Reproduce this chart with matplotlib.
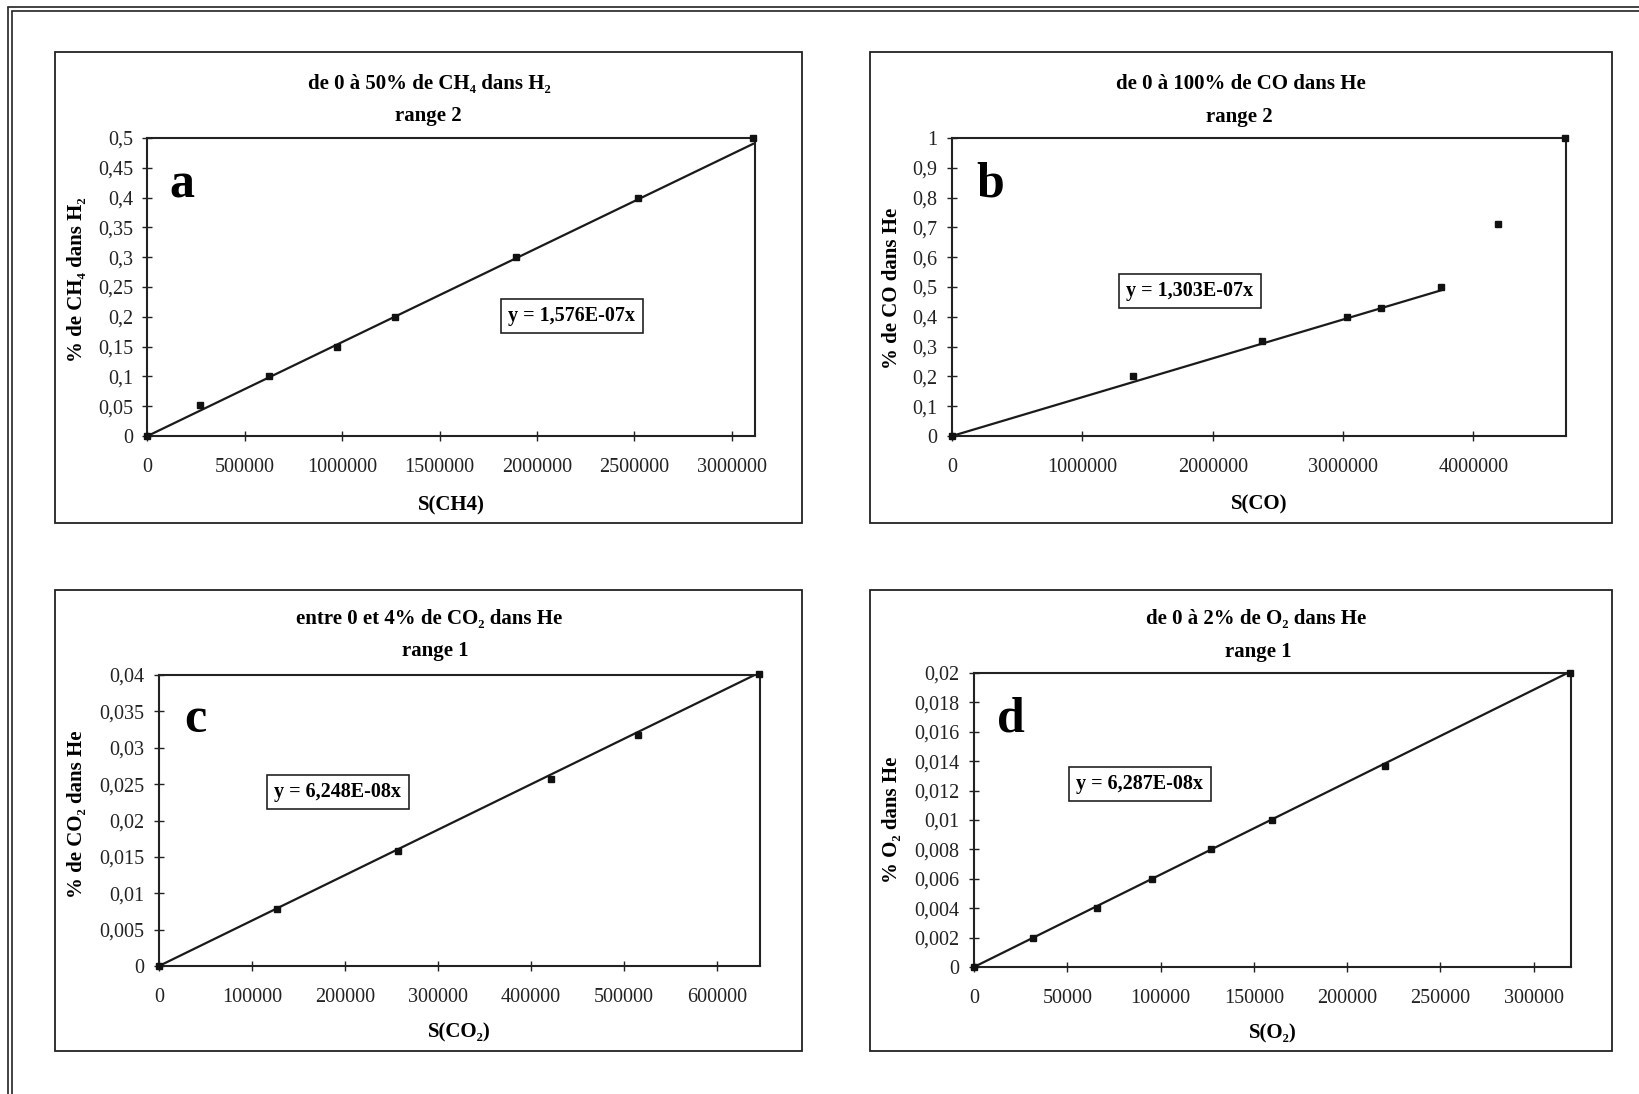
import matplotlib
matplotlib.use("Agg")
import matplotlib.pyplot as plt
from matplotlib.patches import Rectangle
from matplotlib.lines import Line2D
from matplotlib.ticker import FuncFormatter

plt.rcParams['font.family'] = ['Liberation Serif', 'DejaVu Serif']

W, H = 1640, 1094

# --- data ---
# a : CH4 in H2, range 2
s_ch4 = [0, 268000, 622000, 971000, 1271000, 1894000, 2521000, 3110000]
pct_ch4 = [0, 0.052, 0.1, 0.15, 0.2, 0.3, 0.4, 0.5]
slope_ch4 = 1.576e-07

# b : CO in He, range 2
s_co = [0, 1387000, 2380000, 3030000, 3290000, 3750000, 4190000, 4700000]
pct_co = [0, 0.2, 0.32, 0.40, 0.43, 0.50, 0.71, 1.0]
slope_co = 1.303e-07
fit_max_co = 3750000

# c : CO2 in He, range 1
s_co2 = [0, 127000, 257000, 421000, 515000, 645000]
pct_co2 = [0, 0.0078, 0.0158, 0.0257, 0.0318, 0.0401]
slope_co2 = 6.248e-08

# d : O2 in He, range 1
s_o2 = [0, 31400, 66100, 95300, 127200, 159800, 220300, 319500]
pct_o2 = [0, 0.002, 0.004, 0.006, 0.008, 0.010, 0.0137, 0.020]
slope_o2 = 6.287e-08


def fx(x):
    return x / W


def fy(y):
    return 1 - y / H


def comma(v, pos):
    return f"{v:g}".replace('.', ',')


fig = plt.figure(figsize=(W / 100, H / 100), dpi=100)

# outer double frame (cut off at right and bottom in the scan)
for off in (8, 12):
    fig.add_artist(Line2D([fx(off), fx(off)], [fy(off), fy(1094)], color='#222222', lw=1.2,
                          transform=fig.transFigure))
    fig.add_artist(Line2D([fx(off), fx(1640)], [fy(off - 1), fy(off - 1)], color='#222222', lw=1.2,
                          transform=fig.transFigure))

panels = [
    dict(box=(55, 52, 802, 523), ax=(147.5, 138, 755, 436), x=s_ch4, y=pct_ch4, slope=slope_ch4,
         fitmax=s_ch4[-1], xlim=3120000, xstep=500000, ylim=0.5, ystep=0.05,
         title='de 0 à 50% de CH₄ dans H₂', rng='range 2', tpos=(429, 84), rpos=(428, 116),
         xlabel='S(CH4)', xly=505, ylabel='% de CH₄ dans H₂', ylpos=(77, 280),
         letter='a', lpos=(182, 186), eq='y = 1,576E-07x', eqpos=(572, 316)),
    dict(box=(870, 52, 1612, 523), ax=(952, 138, 1566, 436), x=s_co, y=pct_co, slope=slope_co,
         fitmax=fit_max_co, xlim=4710000, xstep=1000000, ylim=1.0, ystep=0.1,
         title='de 0 à 100% de CO dans He', rng='range 2', tpos=(1241, 84), rpos=(1239, 117),
         xlabel='S(CO)', xly=504, ylabel='% de CO dans He', ylpos=(892, 288),
         letter='b', lpos=(990, 185), eq='y = 1,303E-07x', eqpos=(1190, 291)),
    dict(box=(55, 590, 802, 1051), ax=(159, 675, 760, 966), x=s_co2, y=pct_co2, slope=slope_co2,
         fitmax=s_co2[-1], xlim=646000, xstep=100000, ylim=0.04, ystep=0.005,
         title='entre 0 et 4% de CO₂ dans He', rng='range 1', tpos=(429, 619), rpos=(435, 651),
         xlabel='S(CO₂)', xly=1032, ylabel='% de CO₂ dans He', ylpos=(77, 814),
         letter='c', lpos=(195, 720), eq='y = 6,248E-08x', eqpos=(338, 792)),
    dict(box=(870, 590, 1612, 1051), ax=(974, 673, 1571, 967), x=s_o2, y=pct_o2, slope=slope_o2,
         fitmax=s_o2[-1], xlim=320000, xstep=50000, ylim=0.02, ystep=0.002,
         title='de 0 à 2% de O₂ dans He', rng='range 1', tpos=(1256, 619), rpos=(1258, 652),
         xlabel='S(O₂)', xly=1033, ylabel='% O₂ dans He', ylpos=(892, 820),
         letter='d', lpos=(1011, 720), eq='y = 6,287E-08x', eqpos=(1140, 784)),
]

for p in panels:
    x0, y0, x1, y1 = p['box']
    fig.add_artist(Rectangle((fx(x0), fy(y1)), fx(x1) - fx(x0), fy(y0) - fy(y1), fill=False,
                             edgecolor='#222222', lw=1.3, transform=fig.transFigure))

    a0, b0, a1, b1 = p['ax']
    ax = fig.add_axes([fx(a0), fy(b1), fx(a1) - fx(a0), fy(b0) - fy(b1)])
    ax.set_xlim(0, p['xlim'])
    ax.set_ylim(0, p['ylim'])

    n = int(round(p['xlim'] // p['xstep']))
    ax.set_xticks([i * p['xstep'] for i in range(n + 1)])
    m = int(round(p['ylim'] / p['ystep']))
    ax.set_yticks([i * p['ystep'] for i in range(m + 1)])
    ax.xaxis.set_major_formatter(FuncFormatter(lambda v, pos: f"{v:.0f}"))
    ax.yaxis.set_major_formatter(FuncFormatter(comma))

    ax.tick_params(direction='inout', length=7, width=1, colors='#222222', labelsize=14.5)
    ax.tick_params(axis='x', pad=12.5)
    ax.tick_params(axis='y', pad=7)
    for sp in ax.spines.values():
        sp.set_color('#222222')
        sp.set_linewidth(1.5)

    ax.plot([0, p['fitmax']], [0, p['slope'] * p['fitmax']], color='#1a1a1a', lw=1.6, zorder=2)
    ax.plot(p['x'], p['y'], 's', color='#111111', ms=4, clip_on=False, zorder=3)

    fig.text(fx(p['tpos'][0]), fy(p['tpos'][1]), p['title'], ha='center', va='center',
             fontsize=15, fontweight='bold')
    fig.text(fx(p['rpos'][0]), fy(p['rpos'][1]), p['rng'], ha='center', va='center',
             fontsize=15, fontweight='bold')
    fig.text(fx((a0 + a1) / 2), fy(p['xly']), p['xlabel'], ha='center', va='center',
             fontsize=15, fontweight='bold')
    fig.text(fx(p['ylpos'][0]), fy(p['ylpos'][1]), p['ylabel'], ha='center', va='center',
             rotation=90, fontsize=15, fontweight='bold')
    fig.text(fx(p['lpos'][0]), fy(p['lpos'][1]), p['letter'], ha='center', va='center',
             fontsize=36, fontweight='bold')
    fig.text(fx(p['eqpos'][0]), fy(p['eqpos'][1]), p['eq'], ha='center', va='center',
             fontsize=14.5, fontweight='bold',
             bbox=dict(boxstyle='square,pad=0.35', facecolor='white', edgecolor='#222222', lw=1.2))

fig.savefig('out.png', dpi=100)
